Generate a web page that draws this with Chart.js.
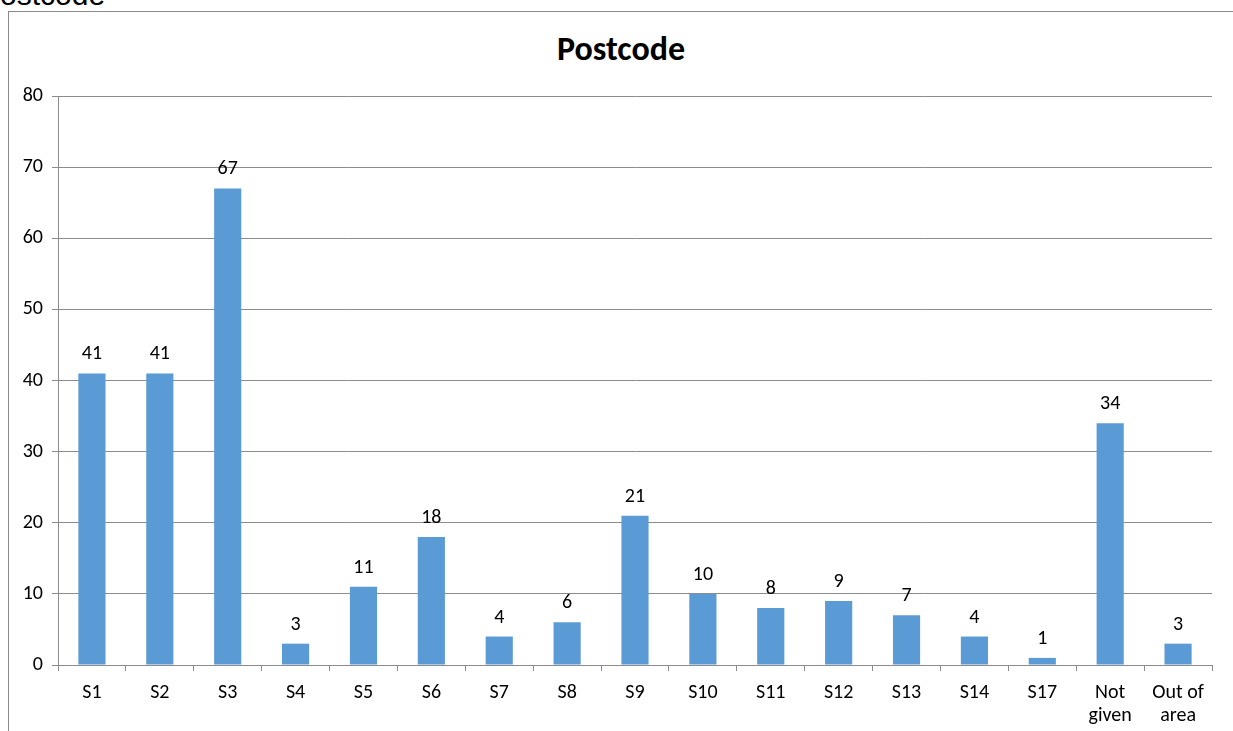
<!DOCTYPE html>
<html>
<head>
<meta charset="utf-8">
<script src="https://cdn.jsdelivr.net/npm/chart.js@4"></script>
<style>
  html, body { margin: 0; padding: 0; background: #fff; overflow: hidden; }
  #wrap { position: absolute; left: 0; top: 0; width: 1233px; height: 731px; overflow: hidden; }
  #frame { position: absolute; left: 8px; top: 11px; width: 1300px; height: 800px; border-left: 1px solid #8a8a8a; border-top: 1px solid #8a8a8a; }
  #cut { position: absolute; left: -20px; top: -20px; line-height: 30px; font-family: "Liberation Sans", Arial, sans-serif; font-size: 30px; color: #000; white-space: nowrap; }
  #title { position: absolute; left: 0; width: 1242px; top: 28px; text-align: center; font-family: Carlito, Lato, "Open Sans", sans-serif; font-weight: bold; font-size: 34px; color: #000; }
  canvas { position: absolute; left: 0; top: 0; }
</style>
</head>
<body>
<div id="wrap">
  <div id="cut">Postcode</div>
  <div id="frame"></div>
  <div id="title">Postcode</div>
  <canvas id="c" width="1233" height="731"></canvas>
</div>
<script>
const categories = ["S1","S2","S3","S4","S5","S6","S7","S8","S9","S10","S11","S12","S13","S14","S17",["Not","given"],["Out of","area"]];
const counts = [41,41,67,3,11,18,4,6,21,10,8,9,7,4,1,34,3];
const yTicks = [0,10,20,30,40,50,60,70,80];

const FONT = 'Carlito, Lato, "Open Sans", sans-serif';

const valueLabels = {
  id: 'valueLabels',
  afterDatasetsDraw(chart) {
    const ctx = chart.ctx;
    const meta = chart.getDatasetMeta(0);
    ctx.save();
    ctx.font = '20px ' + FONT;
    ctx.fillStyle = '#000';
    ctx.textAlign = 'center';
    ctx.textBaseline = 'bottom';
    meta.data.forEach((bar, i) => {
      ctx.fillText(String(counts[i]), bar.x, bar.y - 9);
    });
    ctx.restore();
  }
};

new Chart(document.getElementById('c'), {
  type: 'bar',
  data: {
    labels: categories,
    datasets: [{
      data: counts,
      backgroundColor: '#5B9BD5',
      borderWidth: 0,
      barPercentage: 0.4,
      categoryPercentage: 1.0
    }]
  },
  options: {
    responsive: false,
    animation: false,
    devicePixelRatio: 1,
    layout: { padding: { left: 0, right: 21, top: 96, bottom: 0 } },
    plugins: { legend: { display: false }, tooltip: { enabled: false }, title: { display: false } },
    scales: {
      x: {
        grid: { offset: true, drawOnChartArea: false, drawTicks: true, tickLength: 6, color: '#8c8c8c' },
        border: { display: true, color: '#8c8c8c', width: 1 },
        ticks: { color: '#000', font: { family: FONT, size: 20, lineHeight: 1.15 }, padding: 10, maxRotation: 0, autoSkip: false },
        afterFit(s) { s.height = 66; }
      },
      y: {
        min: 0, max: 80,
        afterBuildTicks(s) { s.ticks = yTicks.map(v => ({ value: v })); },
        grid: { color: '#8c8c8c', drawTicks: true, tickLength: 6 },
        border: { display: true, color: '#8c8c8c', width: 1 },
        ticks: { color: '#000', font: { family: FONT, size: 20 }, padding: 9 },
        afterFit(s) { s.width = 58; }
      }
    }
  },
  plugins: [valueLabels]
});
</script>
</body>
</html>
